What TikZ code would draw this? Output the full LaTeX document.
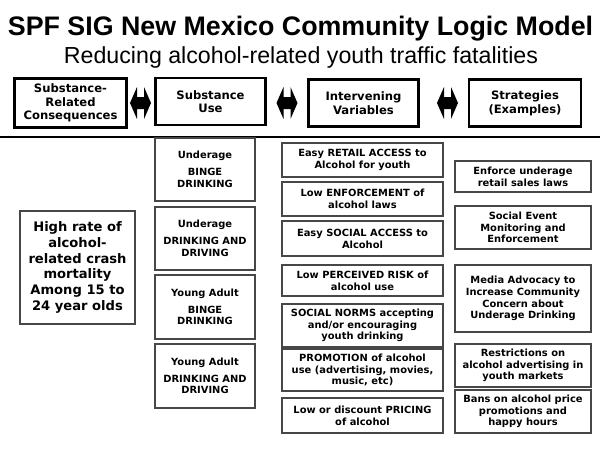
\documentclass[tikz,border=0pt]{standalone}
\usepackage{fontspec}
\setmainfont{DejaVu Sans}
\newfontfamily\arialf{Liberation Sans}
\usetikzlibrary{calc}
\newcommand{\dblarr}[1]{%
  \fill (#1) ++(-10.5,0) -- ++(7,-16) -- ++(0,10) -- ++(7,0) -- ++(0,-10) -- ++(7,16)
     -- ++(-7,16) -- ++(0,-10) -- ++(-7,0) -- ++(0,10) -- cycle;}
\begin{document}
\begin{tikzpicture}[x=1pt,y=-1pt,
  hdr/.style={draw=black, line width=2.2pt, align=center, inner sep=0pt,
    font=\fontsize{11.6}{13.6}\selectfont\bfseries},
  bodybox/.style={draw=black!72, line width=1.2pt, align=center, inner sep=0pt,
    font=\fontsize{9.9}{11.8}\selectfont\bfseries},
  subox/.style={bodybox, minimum width=100pt},
  ivbox/.style={bodybox, minimum width=161pt},
  stbox/.style={bodybox, minimum width=136pt},
  bigbox/.style={draw=black!72, line width=1.2pt, align=center, inner sep=0pt,
    font=\fontsize{13.1}{15.8}\selectfont\bfseries}
]
\useasboundingbox (0,0) rectangle (600,450);
\fill[white] (0,0) rectangle (600,450);

% titles
\node[font=\arialf\fontsize{26.8}{30}\selectfont\bfseries] (title) at (300.5,29) {SPF SIG New Mexico Community Logic Model};
\node[font=\arialf\fontsize{23.2}{26}\selectfont] (subtitle) at (301,57) {Reducing alcohol-related youth traffic fatalities};

% header boxes
\node[hdr, minimum width=112pt, minimum height=49pt] (h1) at (70.5,103) {Substance-\\Related\\Consequences};
\node[hdr, minimum width=110pt, minimum height=47pt] (h2) at (210.5,101.5) {Substance\\Use};
\node[hdr, minimum width=110pt, minimum height=47pt] (h3) at (363.5,103) {Intervening\\Variables};
\node[hdr, minimum width=112pt, minimum height=47pt] (h4) at (525,103) {Strategies\\(Examples)};

% double arrows between header boxes
\coordinate (a1) at (140.5,103);
\coordinate (a2) at (287,103);
\coordinate (a3) at (447.5,103);
\dblarr{a1}
\dblarr{a2}
\dblarr{a3}

% divider
\coordinate (divL) at (0,137);
\coordinate (divR) at (600,137);
\draw[line width=2.4pt] (divL) -- (divR);
\draw[black!45, line width=0.6pt] (155.5,138) -- (155.5,141);
\draw[black!45, line width=0.6pt] (255.5,138) -- (255.5,141);

% consequences
\node[bigbox, minimum width=115pt, minimum height=113pt] (c1) at (77.5,267.5)
  {High rate of\\alcohol-\\related crash\\mortality\\Among 15 to\\24 year olds};

% substance use
\node[subox, minimum height=63pt] (u1) at (205,169.5) {Underage\\[5pt]BINGE\\DRINKING};
\node[subox, minimum height=63pt] (u2) at (205,238.5) {Underage\\[5pt]DRINKING AND\\DRIVING};
\node[subox, minimum height=64pt] (u3) at (205,307) {Young Adult\\[5pt]BINGE\\DRINKING};
\node[subox, minimum height=64pt] (u4) at (205,376) {Young Adult\\[5pt]DRINKING AND\\DRIVING};

% intervening variables
\node[ivbox, minimum height=34pt] (v1) at (362.5,160) {Easy RETAIL ACCESS to\\Alcohol for youth};
\node[ivbox, minimum height=34pt] (v2) at (362.5,199) {Low ENFORCEMENT of\\alcohol laws};
\node[ivbox, minimum height=35pt] (v3) at (362.5,238.5) {Easy SOCIAL ACCESS to\\Alcohol};
\node[ivbox, minimum height=31pt] (v4) at (362.5,280.5) {Low PERCEIVED RISK of\\alcohol use};
\node[ivbox, minimum height=43pt] (v5) at (362.5,325.5) {SOCIAL NORMS accepting\\and/or encouraging\\youth drinking};
\node[ivbox, minimum height=42pt] (v6) at (362.5,370) {PROMOTION of alcohol\\use (advertising, movies,\\music, etc)};
\node[ivbox, minimum height=35pt] (v7) at (362.5,415.5) {Low or discount PRICING\\of alcohol};

% strategies
\node[stbox, minimum height=31pt] (s1) at (523,176.5) {Enforce underage\\retail sales laws};
\node[stbox, minimum height=43pt] (s2) at (523,227.5) {Social Event\\Monitoring and\\Enforcement};
\node[stbox, minimum height=67pt] (s3) at (523,298.5) {Media Advocacy to\\Increase Community\\Concern about\\Underage Drinking};
\node[stbox, minimum height=43pt] (s4) at (523,365.5) {Restrictions on\\alcohol advertising in\\youth markets};
\node[stbox, minimum height=43pt] (s5) at (523,411.5) {Bans on alcohol price\\promotions and\\happy hours};
\end{tikzpicture}
\end{document}
